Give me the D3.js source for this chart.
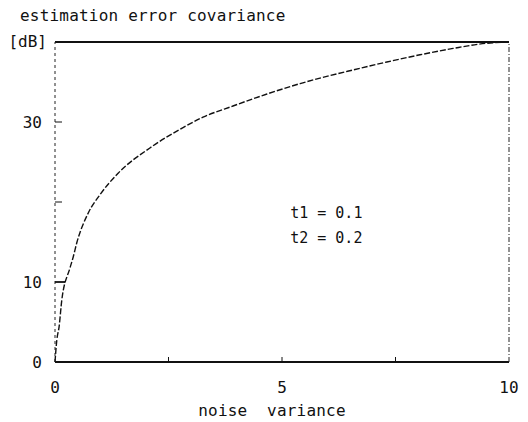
<!DOCTYPE html>
<html>
<head>
<meta charset="utf-8">
<script src="https://cdn.jsdelivr.net/npm/d3@7"></script>
<style>
    body { margin: 0; background: #fff; }
    svg text { font-family: "DejaVu Sans Mono", "Liberation Mono", monospace; fill: #111; }
</style>
</head>
<body>
<div id="chart"></div>
<script>
// values
let noiseVar = [0, 0.04, 0.09, 0.15, 0.33, 0.40, 0.48, 0.73, 0.99, 1.39, 2.09, 2.82, 3.26, 3.92, 4.67, 5.40, 6.56, 7.31, 8.04, 8.77, 9.52, 10];
let errCov = [0, 2.75, 4.4, 7.75, 11.75, 13.1, 14.9, 18.6, 20.9, 23.6, 26.75, 29.3, 30.6, 32.0, 33.5, 34.8, 36.5, 37.5, 38.4, 39.2, 39.85, 40];

let xTickVals = [0, 5, 10];
let xMinorTicks = [2.5, 5, 7.5];
let yTickVals = [0, 10, 30];
let yMinorTicks = [10, 20, 30];
let yTopLabel = '[dB]';
let notes = ['t1 = 0.1', 't2 = 0.2'];

class ErrorChart {
    constructor(xs, ys) {
        this.points = xs.map((x, i) => ({x: x, y: ys[i]}));
        this.x = d3.scaleLinear().domain([0, 10]).range([55, 509]);
        this.y = d3.scaleLinear().domain([0, 40]).range([362, 42]);
    }

    drawChart() {
        let x = this.x, y = this.y;
        let svg = d3.select('#chart').append('svg')
            .attr('width', 528).attr('height', 422);

        svg.append('text')
            .attr('x', 20).attr('y', 21)
            .style('font-size', '16px').style('letter-spacing', '0.2px')
            .text('estimation error covariance');

        // frame: solid top and bottom, broken left and right
        svg.append('line')
            .attr('x1', x(0)).attr('x2', x(10)).attr('y1', y(40)).attr('y2', y(40))
            .attr('stroke', '#111').attr('stroke-width', 2);
        svg.append('line')
            .attr('x1', x(0)).attr('x2', x(10)).attr('y1', y(0)).attr('y2', y(0))
            .attr('stroke', '#111').attr('stroke-width', 2);
        svg.append('line')
            .attr('x1', x(0)).attr('x2', x(0)).attr('y1', y(0)).attr('y2', y(40))
            .attr('stroke', '#222').attr('stroke-width', 1).attr('stroke-dasharray', '3,3');
        svg.append('line')
            .attr('x1', x(10)).attr('x2', x(10)).attr('y1', y(0)).attr('y2', y(40))
            .attr('stroke', '#222').attr('stroke-width', 1).attr('stroke-dasharray', '5,2,1,2');

        svg.selectAll('.ytick').data(yMinorTicks).enter().append('line')
            .attr('x1', x(0)).attr('x2', d => x(0) + (d === 10 ? 10 : 7))
            .attr('y1', d => y(d)).attr('y2', d => y(d))
            .attr('stroke', '#111').attr('stroke-width', d => d === 10 ? 1.8 : 1);

        svg.selectAll('.xtick').data(xMinorTicks).enter().append('line')
            .attr('x1', d => x(d)).attr('x2', d => x(d))
            .attr('y1', y(0)).attr('y2', y(0) - 5)
            .attr('stroke', '#111').attr('stroke-width', 1);

        svg.selectAll('.ylab').data(yTickVals).enter().append('text')
            .attr('x', 42).attr('y', d => y(d) + 6)
            .attr('text-anchor', 'end')
            .style('font-size', '16px')
            .text(d => d);
        svg.append('text')
            .attr('x', 47).attr('y', y(40) + 5)
            .attr('text-anchor', 'end')
            .style('font-size', '16px')
            .text(yTopLabel);

        svg.selectAll('.xlab').data(xTickVals).enter().append('text')
            .attr('x', d => x(d)).attr('y', 393)
            .attr('text-anchor', 'middle')
            .style('font-size', '16px')
            .text(d => d);

        svg.append('text')
            .attr('x', 272).attr('y', 416)
            .attr('text-anchor', 'middle')
            .style('font-size', '16px').style('letter-spacing', '0.2px')
            .attr('xml:space', 'preserve')
            .text('noise  variance');

        svg.selectAll('.note').data(notes).enter().append('text')
            .attr('x', x(5.18)).attr('y', (d, i) => y(18 - i * 3.1))
            .style('font-size', '15px')
            .attr('xml:space', 'preserve')
            .text(d => d);

        let line = d3.line()
            .x(d => x(d.x)).y(d => y(d.y))
            .curve(d3.curveMonotoneX);

        svg.append('path')
            .datum(this.points)
            .attr('d', line)
            .attr('fill', 'none')
            .attr('stroke', '#111')
            .attr('stroke-width', 1.4)
            .attr('stroke-dasharray', '6,2');
    }
}

let chart = new ErrorChart(noiseVar, errCov);
chart.drawChart();
</script>
</body>
</html>
